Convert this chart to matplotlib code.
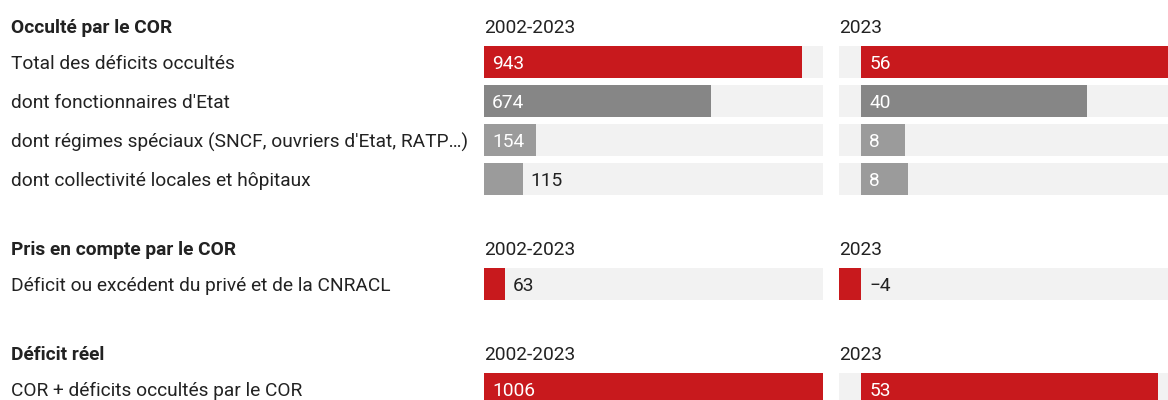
import matplotlib
matplotlib.use("Agg")
import matplotlib.pyplot as plt

plt.rcParams['font.family'] = ['Roboto', 'DejaVu Sans']

# Data
sections = ["Occulté par le COR", "Pris en compte par le COR", "Déficit réel"]
row_labels = [
    "Total des déficits occultés",
    "dont fonctionnaires d'Etat",
    "dont régimes spéciaux (SNCF, ouvriers d'Etat, RATP\u2026)",
    "dont collectivité locales et hôpitaux",
    "Déficit ou excédent du privé et de la CNRACL",
    "COR + déficits occultés par le COR",
]
row_section = [0, 0, 0, 0, 1, 2]
col_titles = ["2002-2023", "2023"]
vals_2002_2023 = [943, 674, 154, 115, 63, 1006]
vals_2023 = [56.5, 40.3, 7.8, 8.4, -4, 53]

# Style
RED = "#c8191d"
DARK_GREY = "#868686"
LIGHT_GREY = "#9b9b9b"
BG = "#f2f2f2"
TXT = "#222222"
row_colors = [RED, DARK_GREY, LIGHT_GREY, LIGHT_GREY, RED, RED]
FS = 13.8

W, H = 1168, 400
fig = plt.figure(figsize=(W / 100, H / 100), dpi=100)
fig.patch.set_facecolor("white")

# layout (pixels): header rows and bar rows
header_y = []
row_y = []
y = 26
for s in range(len(sections)):
    header_y.append(y)
    n = 0
    for r, sec in enumerate(row_section):
        if sec == s:
            row_y.append(y + 36 + 39 * n)
            n += 1
    y = row_y[-1] + 69

bar_h = 32
col_x = [484, 839]
col_w = 339

# text layer
tx = fig.add_axes([0, 0, 1, 1])
tx.set_xlim(0, W)
tx.set_ylim(H, 0)
tx.axis("off")

for s, name in enumerate(sections):
    tx.text(11, header_y[s], name, fontsize=FS, fontweight="bold",
            color=TXT, va="center_baseline", ha="left")
    for c, t in enumerate(col_titles):
        tx.text(col_x[c], header_y[s], t, fontsize=FS, color=TXT,
                va="center_baseline", ha="left")

for r, lab in enumerate(row_labels):
    tx.text(11, row_y[r], lab, fontsize=FS, color=TXT,
            va="center_baseline", ha="left")

# bar columns
for c, vals in enumerate([vals_2002_2023, vals_2023]):
    ax = fig.add_axes([col_x[c] / W, 0, col_w / W, 1])
    lo, hi = min(0, min(vals)), max(vals)
    ax.set_xlim(lo, hi)
    ax.set_ylim(H, 0)
    ax.axis("off")
    ppu = col_w / (hi - lo)
    ax.barh(row_y, [hi - lo] * len(vals), left=lo, height=bar_h,
            color=BG, edgecolor="none")
    ax.barh(row_y, vals, height=bar_h, color=row_colors, edgecolor="none")
    for r, v in enumerate(vals):
        txt = f"{round(v):d}".replace("-", "\u2212")
        width_px = abs(v) * ppu
        need = len(txt) * 10 + 14
        if v > 0 and width_px >= need:
            ax.text(0 + 8 / ppu, row_y[r], txt, color="white", fontsize=FS,
                    va="center_baseline", ha="left")
        else:
            ax.text(max(v, 0) + 8 / ppu, row_y[r], txt, color=TXT,
                    fontsize=FS, va="center_baseline", ha="left")

fig.savefig("out.png", dpi=100, facecolor="white")
